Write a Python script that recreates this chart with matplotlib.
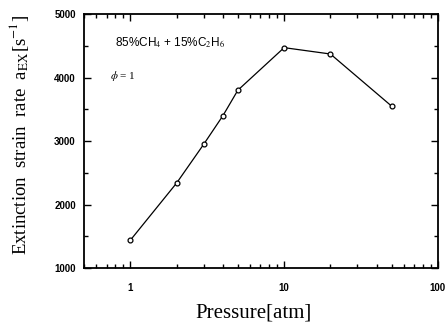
import matplotlib
matplotlib.use("Agg")
import matplotlib.pyplot as plt
from matplotlib.ticker import MultipleLocator, LogLocator, FixedLocator, NullFormatter

plt.rcParams["mathtext.fontset"] = "stix"

# data
pressure = [1, 2, 3, 4, 5, 10, 20, 50]
strain_rate = [1440, 2340, 2950, 3400, 3800, 4470, 4370, 3550]
x_ticks = [1, 10, 100]
x_tick_labels = ["1", "10", "100"]
y_ticks = [1000, 2000, 3000, 4000, 5000]

fig = plt.figure(figsize=(4.45, 3.25), dpi=100)
ax = fig.add_axes([0.189, 0.175, 0.795, 0.782])

ax.plot(pressure, strain_rate, color="black", lw=0.9, marker="o", ms=3.5,
        mfc="white", mec="black", mew=0.9)

ax.set_xscale("log")
ax.set_xlim(0.5, 100)
ax.set_ylim(1000, 5000)

ax.xaxis.set_major_locator(FixedLocator(x_ticks))
ax.set_xticklabels(x_tick_labels)
ax.xaxis.set_minor_locator(LogLocator(base=10, subs=range(2, 10)))
ax.xaxis.set_minor_formatter(NullFormatter())
ax.yaxis.set_major_locator(FixedLocator(y_ticks))
ax.yaxis.set_minor_locator(MultipleLocator(500))

ax.tick_params(which="both", direction="in", top=True, right=True, width=1)
ax.tick_params(which="major", length=5, labelsize=7, pad=6)
ax.tick_params(axis="x", which="major", pad=11)
ax.tick_params(which="minor", length=3)
for lab in ax.get_xticklabels() + ax.get_yticklabels():
    lab.set_fontweight("bold")
    lab.set_family("Liberation Sans")

for sp in ax.spines.values():
    sp.set_linewidth(1.3)

ax.set_xlabel("Pressure[atm]", family="Liberation Serif", fontsize=15)
ax.xaxis.set_label_coords(0.48, -0.14)
ax.set_ylabel(r"Extinction  strain  rate  a$_{\mathrm{EX}}$[s$^{-1}$]",
              family="Liberation Serif", fontsize=13.5)
ax.yaxis.set_label_coords(-0.15, 0.525)

ax.text(0.087, 0.885, r"85%CH$_{4}$ + 15%C$_{2}$H$_{6}$", transform=ax.transAxes,
        fontsize=8.5, family="Liberation Sans", ha="left", va="center")
ax.text(0.073, 0.755, r"$\phi$ = 1", transform=ax.transAxes,
        fontsize=8, family="Liberation Serif", ha="left", va="center")

fig.savefig("out.png", dpi=100)
